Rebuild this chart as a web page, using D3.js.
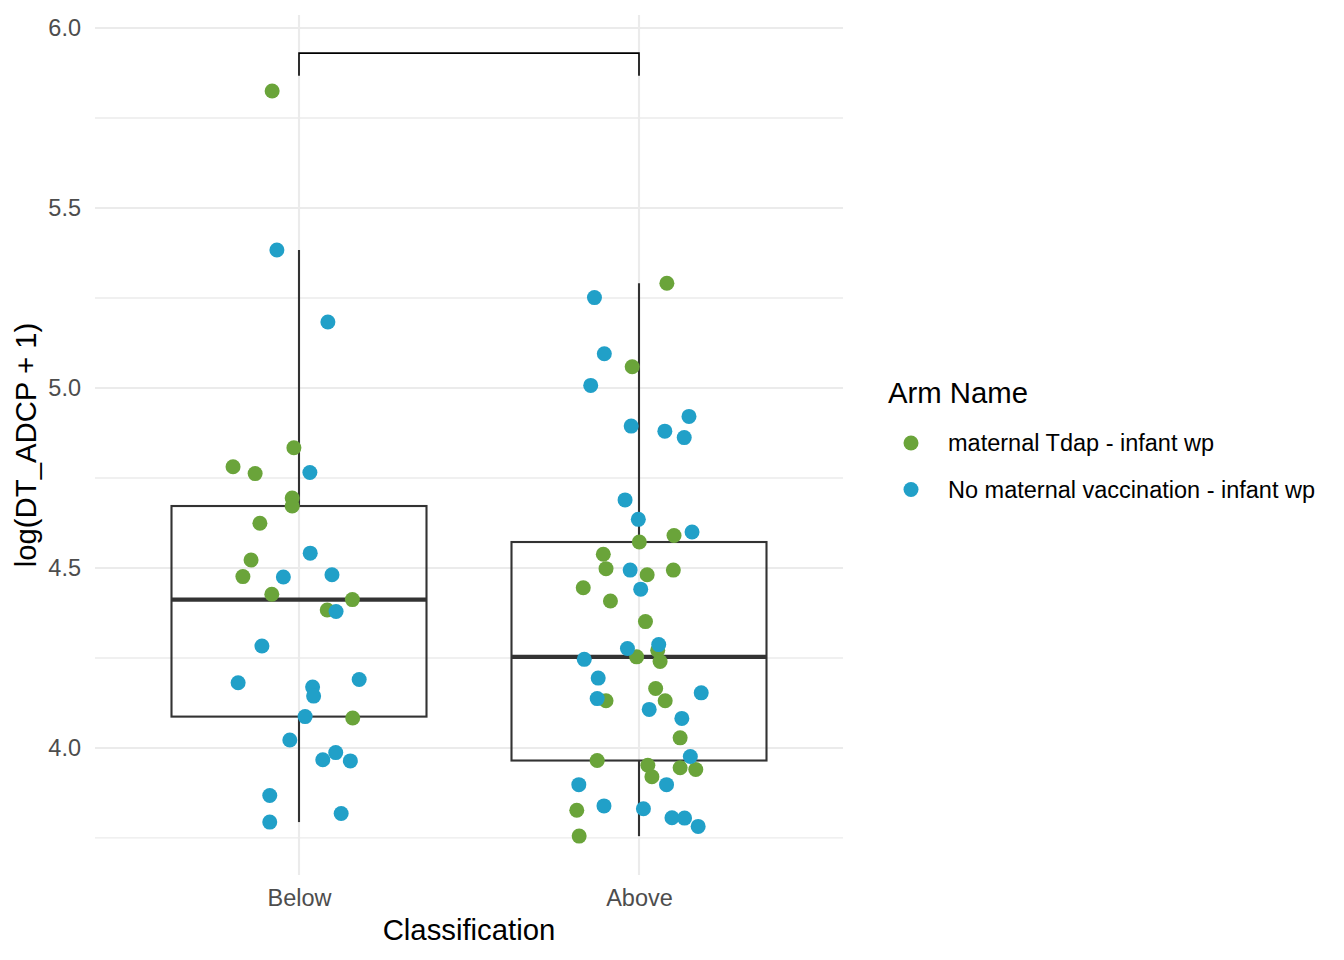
<!DOCTYPE html>
<html>
<head>
<meta charset="utf-8">
<script src="https://cdn.jsdelivr.net/npm/d3@7"></script>
<style>
    body { margin: 0; background: white; }
    text { font-family: "Liberation Sans", Arial, sans-serif; }
</style>
</head>
<body>
<div id="container"></div>
<script>
// categories + legend
const classes = ["Below", "Above"]
const arms = ["maternal Tdap - infant wp", "No maternal vaccination - infant wp"]
const armColors = ["#6aa43a", "#21a0c8"]
const yTicks = [4.0, 4.5, 5.0, 5.5, 6.0]
const yMinorTicks = [3.75, 4.25, 4.75, 5.25, 5.75]

// values, jitter is offset from the category centre (in category units)
const belowTdapY = [5.825, 4.834, 4.781, 4.762, 4.694, 4.672, 4.624, 4.522, 4.476, 4.427, 4.412, 4.383, 4.083]
const belowTdapJit = [-0.079, -0.015, -0.194, -0.129, -0.020, -0.020, -0.115, -0.141, -0.165, -0.080, 0.157, 0.083, 0.158]
const belowNoneY = [5.383, 5.183, 4.765, 4.541, 4.475, 4.481, 4.379, 4.283, 4.181, 4.190, 4.169, 4.144, 4.087, 4.022, 3.987, 3.967, 3.964, 3.868, 3.818, 3.794]
const belowNoneJit = [-0.065, 0.085, 0.032, 0.033, -0.046, 0.097, 0.109, -0.109, -0.179, 0.177, 0.040, 0.043, 0.018, -0.027, 0.108, 0.070, 0.151, -0.086, 0.124, -0.086]
const aboveTdapY = [5.291, 5.059, 4.590, 4.572, 4.538, 4.498, 4.481, 4.494, 4.445, 4.408, 4.351, 4.271, 4.253, 4.240, 4.131, 4.165, 4.131, 4.028, 3.965, 3.952, 3.920, 3.945, 3.940, 3.827, 3.755]
const aboveTdapJit = [0.082, -0.020, 0.103, 0.001, -0.105, -0.097, 0.024, 0.101, -0.164, -0.084, 0.019, 0.055, -0.007, 0.062, -0.097, 0.049, 0.077, 0.121, -0.123, 0.026, 0.038, 0.121, 0.167, -0.183, -0.176]
const aboveNoneY = [5.251, 5.095, 5.007, 4.894, 4.880, 4.921, 4.862, 4.689, 4.635, 4.600, 4.494, 4.441, 4.276, 4.287, 4.246, 4.194, 4.137, 4.153, 4.107, 4.082, 3.976, 3.898, 3.898, 3.839, 3.831, 3.806, 3.805, 3.782]
const aboveNoneJit = [-0.131, -0.102, -0.142, -0.023, 0.076, 0.147, 0.133, -0.041, -0.002, 0.156, -0.026, 0.005, -0.034, 0.058, -0.161, -0.120, -0.123, 0.183, 0.030, 0.126, 0.151, 0.081, -0.177, -0.103, 0.013, 0.097, 0.134, 0.174]

// bracket between the two groups
const bracketY = 5.93
const bracketLegY = 5.867

const w = 1344
const h = 960
const panel = { left: 95, right: 843, top: 15, bottom: 875 }

function rows(cls, arm, ys, jit) {
    return ys.map((v, i) => ({ cls: cls, arm: arm, y: v, x: classes.indexOf(cls) + 1 + jit[i] }))
}
const data = [
    ...rows("Below", arms[0], belowTdapY, belowTdapJit),
    ...rows("Below", arms[1], belowNoneY, belowNoneJit),
    ...rows("Above", arms[0], aboveTdapY, aboveTdapJit),
    ...rows("Above", arms[1], aboveNoneY, aboveNoneJit),
]

const svg = d3.select("#container")
    .append("svg")
    .attr("width", w)
    .attr("height", h)
    .style("background-color", "white")

const xScale = d3.scaleLinear()
    .domain([0.4, 2.6])
    .range([panel.left, panel.right])
const yScale = d3.scaleLinear()
    .domain([3.647, 6.036])
    .range([panel.bottom, panel.top])
const colorScale = d3.scaleOrdinal()
    .domain(arms)
    .range(armColors)

// grid
const grid = svg.append("g")
grid.selectAll(".minor")
    .data(yMinorTicks)
    .enter()
    .append("line")
    .attr("x1", panel.left)
    .attr("x2", panel.right)
    .attr("y1", (d) => yScale(d))
    .attr("y2", (d) => yScale(d))
    .attr("stroke", "#ebebeb")
    .attr("stroke-width", 1.4)
grid.selectAll(".major")
    .data(yTicks)
    .enter()
    .append("line")
    .attr("x1", panel.left)
    .attr("x2", panel.right)
    .attr("y1", (d) => yScale(d))
    .attr("y2", (d) => yScale(d))
    .attr("stroke", "#ebebeb")
    .attr("stroke-width", 2.1)
grid.selectAll(".vmajor")
    .data([1, 2])
    .enter()
    .append("line")
    .attr("x1", (d) => xScale(d))
    .attr("x2", (d) => xScale(d))
    .attr("y1", panel.top)
    .attr("y2", panel.bottom)
    .attr("stroke", "#ebebeb")
    .attr("stroke-width", 2.1)

// axes (no lines, just labels)
const xAxis = d3.axisBottom(xScale)
    .tickValues([1, 2])
    .tickFormat((d) => classes[d - 1])
    .tickSize(0)
    .tickPadding(14)
const yAxis = d3.axisLeft(yScale)
    .tickValues(yTicks)
    .tickFormat(d3.format(".1f"))
    .tickSize(0)
    .tickPadding(14)

const gx = svg.append("g")
    .attr("transform", `translate(0, ${panel.bottom})`)
    .call(xAxis)
const gy = svg.append("g")
    .attr("transform", `translate(${panel.left}, 0)`)
    .call(yAxis)
for (const g of [gx, gy]) {
    g.select(".domain").remove()
    g.selectAll("text")
        .style("font-size", "23.5px")
        .style("font-family", "'Liberation Sans', Arial, sans-serif")
        .attr("fill", "#4d4d4d")
}

svg.append("text")
    .attr("x", (panel.left + panel.right) / 2)
    .attr("y", 940)
    .attr("text-anchor", "middle")
    .style("font-size", "29.3px")
    .text("Classification")
svg.append("text")
    .attr("transform", `translate(36, ${(panel.top + panel.bottom) / 2}) rotate(-90)`)
    .attr("text-anchor", "middle")
    .style("font-size", "29.3px")
    .text("log(DT_ADCP + 1)")

// boxplots (outliers hidden, like outlier.shape = NA)
const boxW = 0.75
const stats = classes.map((c, i) => {
    const vals = data.filter((d) => d.cls === c).map((d) => d.y).sort(d3.ascending)
    const q1 = d3.quantile(vals, 0.25)
    const med = d3.quantile(vals, 0.5)
    const q3 = d3.quantile(vals, 0.75)
    const iqr = q3 - q1
    const lo = d3.min(vals.filter((v) => v >= q1 - 1.5 * iqr))
    const hi = d3.max(vals.filter((v) => v <= q3 + 1.5 * iqr))
    return { pos: i + 1, q1, med, q3, lo, hi }
})

const boxes = svg.append("g")
    .selectAll("g")
    .data(stats)
    .enter()
    .append("g")
boxes.append("line")
    .attr("x1", (d) => xScale(d.pos))
    .attr("x2", (d) => xScale(d.pos))
    .attr("y1", (d) => yScale(d.hi))
    .attr("y2", (d) => yScale(d.q3))
    .attr("stroke", "#333333")
    .attr("stroke-width", 2.1)
boxes.append("line")
    .attr("x1", (d) => xScale(d.pos))
    .attr("x2", (d) => xScale(d.pos))
    .attr("y1", (d) => yScale(d.q1))
    .attr("y2", (d) => yScale(d.lo))
    .attr("stroke", "#333333")
    .attr("stroke-width", 2.1)
boxes.append("rect")
    .attr("x", (d) => xScale(d.pos - boxW / 2))
    .attr("y", (d) => yScale(d.q3))
    .attr("width", (d) => xScale(d.pos + boxW / 2) - xScale(d.pos - boxW / 2))
    .attr("height", (d) => yScale(d.q1) - yScale(d.q3))
    .attr("fill", "none")
    .attr("stroke", "#333333")
    .attr("stroke-width", 2.1)
boxes.append("line")
    .attr("x1", (d) => xScale(d.pos - boxW / 2))
    .attr("x2", (d) => xScale(d.pos + boxW / 2))
    .attr("y1", (d) => yScale(d.med))
    .attr("y2", (d) => yScale(d.med))
    .attr("stroke", "#333333")
    .attr("stroke-width", 4.3)

// jittered points
svg.append("g")
    .selectAll("circle")
    .data(data)
    .enter()
    .append("circle")
    .attr("cx", (d) => xScale(d.x))
    .attr("cy", (d) => yScale(d.y))
    .attr("r", 7.5)
    .attr("fill", (d) => colorScale(d.arm))

// comparison bracket
svg.append("path")
    .attr("d", d3.line()([
        [xScale(1), yScale(bracketLegY)],
        [xScale(1), yScale(bracketY)],
        [xScale(2), yScale(bracketY)],
        [xScale(2), yScale(bracketLegY)],
    ]))
    .attr("fill", "none")
    .attr("stroke", "black")
    .attr("stroke-width", 1.6)

// legend
const legend = svg.append("g")
    .attr("transform", "translate(888, 0)")
legend.append("text")
    .attr("x", 0)
    .attr("y", 403)
    .style("font-size", "29.3px")
    .text("Arm Name")
const items = legend.selectAll(".item")
    .data(arms)
    .enter()
    .append("g")
    .attr("transform", (d, i) => `translate(0, ${443 + i * 46.5})`)
items.append("circle")
    .attr("cx", 23)
    .attr("cy", 0)
    .attr("r", 7.5)
    .attr("fill", (d) => colorScale(d))
items.append("text")
    .attr("x", 60)
    .attr("y", 0)
    .attr("dy", "0.36em")
    .style("font-size", "23.5px")
    .text((d) => d)
</script>
</body>
</html>
